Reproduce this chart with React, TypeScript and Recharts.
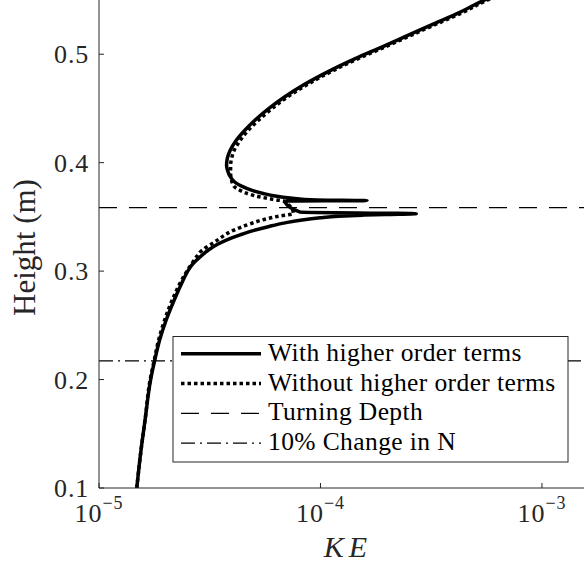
import { LineChart, Line, XAxis, YAxis, ReferenceLine } from "recharts";

// values (KE on a log axis, height in metres)
const heightWith = [
  0.1, 0.135, 0.1626, 0.1994, 0.2169, 0.2363, 0.2547, 0.2731, 0.2915, 0.2989, 0.3053,
  0.313, 0.3192, 0.3247, 0.3293, 0.3334, 0.3376, 0.3412, 0.3445, 0.3472, 0.3491, 0.3505,
  0.3516, 0.3523, 0.3529, 0.3544, 0.3646, 0.365, 0.3656, 0.3675, 0.3693, 0.3716, 0.3744,
  0.3781, 0.3818, 0.3873, 0.3928, 0.3974, 0.4039, 0.4112, 0.4204, 0.4297, 0.4389,
  0.4499, 0.4603, 0.472, 0.4849, 0.4959, 0.5064, 0.5171, 0.5282, 0.5383, 0.5494, 0.5586,
];
const keWith = [
  1.481e-5, 1.548e-5, 1.614e-5, 1.709e-5, 1.781e-5, 1.877e-5, 2.009e-5, 2.183e-5,
  2.397e-5, 2.498e-5, 2.618e-5, 2.86e-5, 3.108e-5, 3.43e-5, 3.827e-5, 4.335e-5, 5.016e-5,
  5.863e-5, 6.926e-5, 8.267e-5, 9.968e-5, 1.202e-4, 1.543e-4, 1.96e-4, 2.706e-4,
  8.096e-5, 6.926e-5, 1.621e-4, 9.631e-5, 7.296e-5, 6.241e-5, 5.509e-5, 4.912e-5,
  4.427e-5, 4.116e-5, 3.908e-5, 3.807e-5, 3.767e-5, 3.795e-5, 3.908e-5, 4.159e-5,
  4.545e-5, 5.042e-5, 5.834e-5, 6.855e-5, 8.439e-5, 1.106e-4, 1.435e-4, 1.88e-4,
  2.465e-4, 3.265e-4, 4.233e-4, 5.42e-4, 6.95e-4,
];
const heightWithout = [
  0.1, 0.135, 0.1626, 0.1994, 0.2169, 0.2363, 0.2547, 0.2731, 0.2915, 0.3099, 0.3192,
  0.3265, 0.3376, 0.3436, 0.3483, 0.3509, 0.3529, 0.3647, 0.3656, 0.368, 0.3707, 0.3744,
  0.3781, 0.3836, 0.391, 0.3974, 0.4039, 0.4112, 0.4204, 0.4297, 0.4389, 0.4499, 0.4603,
  0.472, 0.4849, 0.4959, 0.5064, 0.5171, 0.5282, 0.5383, 0.5494, 0.5586,
];
const keWithout = [
  1.481e-5, 1.548e-5, 1.614e-5, 1.7e-5, 1.772e-5, 1.857e-5, 1.977e-5, 2.138e-5, 2.36e-5,
  2.687e-5, 2.919e-5, 3.309e-5, 4.045e-5, 4.812e-5, 5.725e-5, 6.574e-5, 7.551e-5,
  6.805e-5, 6.353e-5, 5.452e-5, 4.812e-5, 4.335e-5, 4.074e-5, 3.969e-5, 3.928e-5,
  3.928e-5, 3.969e-5, 4.074e-5, 4.335e-5, 4.713e-5, 5.23e-5, 6.049e-5, 7.071e-5,
  8.708e-5, 1.141e-4, 1.481e-4, 1.94e-4, 2.542e-4, 3.369e-4, 4.368e-4, 5.59e-4, 7.17e-4,
];
const turningDepth = 0.3585;
const nChangeDepth = 0.2172;
const keTicks = [1e-5, 1e-4, 1e-3];
const heightTicks = [0.1, 0.2, 0.3, 0.4, 0.5];
const legendLabels = [
  "With higher order terms",
  "Without higher order terms",
  "Turning Depth",
  "10% Change in N",
];

const SERIF = "Liberation Serif, DejaVu Serif, serif";
const AXIS = "#262626";
const DOTS = "3.5 3";
const DASH = "18 12";
const DASHDOT = "14 5 2 5";

const withData = keWith.map((ke, i) => ({ ke, h: heightWith[i] }));
const withoutData = keWithout.map((ke, i) => ({ ke, h: heightWithout[i] }));

function KeTick({ x, y, payload }: any) {
  const exp = Math.round(Math.log10(payload.value));
  return (
    <g>
      <line x1={x} y1={y} x2={x} y2={y - 5} stroke={AXIS} />
      <text
        x={x}
        y={y + 34}
        textAnchor="middle"
        style={{ fontFamily: SERIF, fontSize: 26, letterSpacing: 1 }}
        fill={AXIS}
      >
        10
        <tspan dy={-13} style={{ fontSize: 18 }}>{`\u2212${-exp}`}</tspan>
      </text>
    </g>
  );
}

function TopTick({ x, y }: any) {
  return <line x1={x} y1={y} x2={x} y2={y + 5} stroke={AXIS} />;
}

function HeightTick({ x, y, payload }: any) {
  return (
    <g>
      <line x1={x} y1={y} x2={x + 5} y2={y} stroke={AXIS} />
      <text
        x={x - 10}
        y={y + 9}
        textAnchor="end"
        style={{ fontFamily: SERIF, fontSize: 26, letterSpacing: 0.8 }}
        fill={AXIS}
      >
        {payload.value.toFixed(1)}
      </text>
    </g>
  );
}

function LegendBox() {
  const left = 173;
  const top = 336.5;
  const styles = [
    { dash: undefined, width: 3.5 },
    { dash: DOTS, width: 3.5 },
    { dash: DASH, width: 1.2 },
    { dash: DASHDOT, width: 1.2 },
  ];
  return (
    <svg width={584} height={567} style={{ position: "absolute", left: 0, top: 0, pointerEvents: "none" }}>
      <rect x={left} y={top} width={395} height={125.5} fill="#fff" stroke={AXIS} strokeWidth={1} />
      {legendLabels.map((label, i) => {
        const cy = top + 17.3 + i * 29.8;
        return (
          <g key={label}>
            <line
              x1={181}
              x2={261}
              y1={cy}
              y2={cy}
              stroke="#000"
              strokeWidth={styles[i].width}
              strokeDasharray={styles[i].dash}
            />
            <text
              x={268}
              y={cy + 7}
              style={{ fontFamily: SERIF, fontSize: 25.5, letterSpacing: 0.4 }}
              fill="#000"
            >
              {label}
            </text>
          </g>
        );
      })}
    </svg>
  );
}

export default function App() {
  return (
    <div
      style={{
        position: "fixed",
        left: 0,
        top: 0,
        width: 584,
        height: 567,
        overflow: "hidden",
        background: "#fff",
      }}
    >
      <LineChart width={600} height={567} margin={{ top: 0, right: 7, bottom: 0, left: 0 }}>
        <XAxis
          xAxisId="bottom"
          dataKey="ke"
          type="number"
          scale="log"
          domain={[1e-5, 1.7e-3]}
          allowDataOverflow
          ticks={keTicks}
          interval={0}
          height={79}
          tickSize={0}
          tickMargin={0}
          tickLine={false}
          tick={<KeTick />}
          stroke={AXIS}
          label={{
            content: () => (
              <text
                x={348}
                y={557}
                textAnchor="middle"
                style={{ fontFamily: SERIF, fontSize: 30, fontStyle: "italic", letterSpacing: 5 }}
                fill={AXIS}
              >
                KE
              </text>
            ),
          }}
        />
        <XAxis
          xAxisId="top"
          orientation="top"
          dataKey="ke"
          type="number"
          scale="log"
          domain={[1e-5, 1.7e-3]}
          allowDataOverflow
          ticks={keTicks}
          interval={0}
          height={0}
          tickSize={0}
          tickMargin={0}
          tickLine={false}
          tick={<TopTick />}
          stroke={AXIS}
        />
        <YAxis
          dataKey="h"
          type="number"
          domain={[0.1, 0.55]}
          allowDataOverflow
          ticks={heightTicks}
          interval={0}
          width={99}
          tickSize={0}
          tickMargin={0}
          tickLine={false}
          tick={<HeightTick />}
          stroke={AXIS}
          label={{
            content: () => (
              <text
                x={35}
                y={247.5}
                transform="rotate(-90 35 247.5)"
                textAnchor="middle"
                style={{ fontFamily: SERIF, fontSize: 31 }}
                fill={AXIS}
              >
                Height (m)
              </text>
            ),
          }}
        />
        <ReferenceLine xAxisId="bottom" y={turningDepth} stroke="#000" strokeWidth={1.2} strokeDasharray={DASH} />
        <ReferenceLine xAxisId="bottom" y={nChangeDepth} stroke="#000" strokeWidth={1.2} strokeDasharray={DASHDOT} />
        <Line
          xAxisId="bottom"
          data={withData}
          dataKey="h"
          type="monotoneY"
          stroke="#000"
          strokeWidth={3.5}
          strokeLinejoin="round"
          dot={false}
          activeDot={false}
          isAnimationActive={false}
        />
        <Line
          xAxisId="bottom"
          data={withoutData}
          dataKey="h"
          type="monotoneY"
          stroke="#000"
          strokeWidth={3.5}
          strokeDasharray={DOTS}
          dot={false}
          activeDot={false}
          isAnimationActive={false}
        />
      </LineChart>
      <LegendBox />
    </div>
  );
}
